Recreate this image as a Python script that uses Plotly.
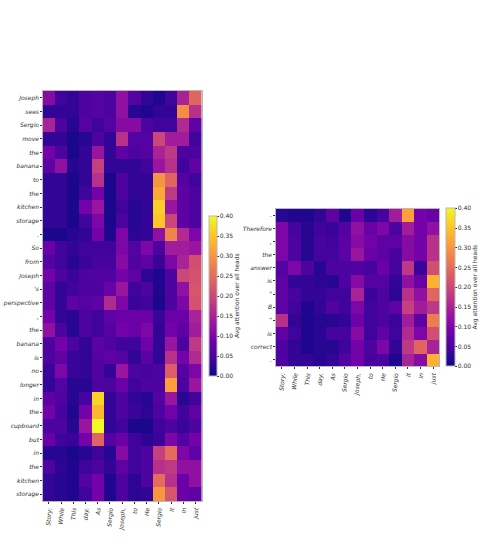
import plotly.graph_objects as go

W, H = 484, 552

# Tokens attended to (shared by both panels)
source_tokens = ["Story:", "While", "This", "day,", "As", "Sergio", "Joseph,", "to", "He", "Sergio", "It", "In", "just"]

story_tokens = ["Joseph", "sees", "Sergio", "move", "the", "banana", "to", "the", "kitchen", "storage", ".",
                "So", "from", "Joseph", "'s", "perspective", ",", "the", "banana", "is", "no", "longer",
                "in", "the", "cupboard", "but", "in", "the", "kitchen", "storage"]

answer_tokens = [".", "Therefore", ",", "the", "answer", "is", "\"", "B", "\"", "is", "correct", "."]

# Average attention per target token (rows) and source token (columns)
story_attention = [
    [.11, .04, .03, .05, .06, .05, .12, .06, .03, .015, .04, .15, .24],
    [.03, .03, .03, .05, .06, .05, .12, .02, .015, .03, .03, .29, .17],
    [.15, .05, .02, .06, .04, .06, .11, .11, .05, .04, .04, .16, .07],
    [.03, .03, .01, .02, .05, .03, .17, .06, .06, .20, .14, .14, .04],
    [.09, .05, .01, .03, .13, .03, .07, .05, .06, .15, .18, .05, .05],
    [.07, .12, .02, .03, .19, .03, .03, .03, .04, .13, .17, .04, .07],
    [.03, .03, .01, .03, .17, .01, .05, .03, .03, .30, .24, .06, .04],
    [.03, .03, .01, .04, .09, .01, .05, .03, .03, .32, .18, .07, .05],
    [.03, .03, .01, .09, .13, .01, .04, .02, .03, .36, .13, .07, .05],
    [.03, .03, .01, .04, .10, .01, .05, .02, .03, .35, .20, .07, .05],
    [.01, .01, .02, .03, .09, .015, .10, .025, .03, .12, .28, .16, .10],
    [.08, .04, .03, .04, .04, .04, .10, .06, .10, .05, .14, .14, .13],
    [.06, .04, .02, .035, .045, .045, .11, .055, .07, .035, .10, .15, .21],
    [.09, .05, .035, .05, .055, .055, .09, .07, .025, .015, .05, .20, .215],
    [.07, .03, .04, .05, .05, .08, .13, .04, .05, .015, .05, .12, .22],
    [.07, .03, .07, .06, .07, .16, .10, .035, .04, .01, .05, .10, .215],
    [.09, .03, .02, .05, .04, .07, .08, .08, .08, .035, .08, .08, .15],
    [.12, .05, .02, .05, .04, .06, .09, .08, .10, .03, .09, .07, .14],
    [.05, .09, .05, .03, .07, .055, .04, .04, .085, .03, .13, .05, .18],
    [.05, .07, .035, .03, .06, .07, .06, .03, .065, .03, .17, .09, .16],
    [.035, .10, .035, .03, .055, .03, .13, .05, .045, .05, .23, .06, .10],
    [.03, .06, .02, .02, .05, .05, .08, .04, .05, .05, .31, .05, .13],
    [.07, .055, .02, .045, .365, .03, .05, .03, .02, .06, .13, .02, .04],
    [.09, .045, .015, .09, .335, .03, .05, .035, .025, .05, .09, .04, .07],
    [.05, .05, .02, .13, .40, .03, .04, .01, .01, .04, .05, .035, .05],
    [.08, .04, .035, .09, .24, .06, .08, .04, .025, .035, .10, .06, .09],
    [.02, .02, .01, .02, .04, .02, .11, .04, .05, .19, .25, .10, .07],
    [.05, .025, .015, .04, .05, .03, .07, .04, .05, .17, .18, .12, .12],
    [.03, .02, .015, .06, .09, .015, .05, .025, .05, .25, .17, .08, .12],
    [.03, .02, .015, .04, .09, .015, .05, .025, .03, .30, .22, .08, .07],
]

answer_attention = [
    [.02, .015, .015, .03, .07, .015, .08, .025, .045, .14, .31, .09, .08],
    [.10, .045, .02, .04, .035, .06, .12, .08, .10, .05, .14, .09, .12],
    [.10, .05, .02, .045, .04, .065, .11, .09, .07, .07, .11, .09, .17],
    [.10, .05, .02, .045, .045, .065, .13, .08, .07, .045, .11, .09, .17],
    [.06, .10, .05, .02, .05, .05, .055, .045, .08, .045, .18, .035, .21],
    [.07, .03, .03, .025, .02, .05, .11, .06, .06, .03, .12, .08, .33],
    [.07, .045, .03, .03, .04, .04, .15, .035, .05, .025, .17, .12, .24],
    [.07, .04, .015, .03, .055, .04, .10, .04, .05, .07, .19, .14, .18],
    [.17, .03, .015, .02, .02, .03, .085, .04, .05, .035, .14, .07, .27],
    [.07, .04, .015, .025, .045, .045, .11, .04, .07, .04, .16, .10, .21],
    [.05, .03, .015, .02, .02, .04, .09, .05, .10, .03, .18, .24, .15],
    [.05, .03, .03, .02, .03, .06, .09, .045, .05, .015, .15, .11, .33],
]

colorbar_ticks = [0.00, 0.05, 0.10, 0.15, 0.20, 0.25, 0.30, 0.35, 0.40]
colorbar_title = "Avg attention over all heads"

TEXT = "#2e2e2e"
FRAME = "#b8b8b8"
FONT = "DejaVu Sans"
SIZE = 6


def px_x(v):
    return v / W


def px_y(v):
    return 1 - v / H


def add_panel(fig, idx, z, rows, box, bar, title_x):
    left, top, right, bottom = box
    bar_left, bar_right, bar_top, bar_bottom = bar
    suffix = "" if idx == 1 else str(idx)
    fig.add_trace(go.Heatmap(
        z=z,
        x=list(range(len(source_tokens))),
        y=list(range(len(rows))),
        zmin=0, zmax=0.4,
        colorscale="Plasma",
        xaxis="x" + suffix, yaxis="y" + suffix,
        xgap=0, ygap=0,
        colorbar=dict(
            x=px_x(bar_left), xanchor="left", xref="paper",
            y=px_y(bar_bottom), yanchor="bottom", yref="paper",
            len=(bar_bottom - bar_top) / H, lenmode="fraction",
            thickness=bar_right - bar_left, thicknessmode="pixels",
            xpad=0, ypad=0,
            outlinecolor=FRAME, outlinewidth=1,
            tickmode="array", tickvals=colorbar_ticks,
            ticktext=[f"{t:.2f}" for t in colorbar_ticks],
            ticks="outside", ticklen=1.5, tickcolor=TEXT, tickwidth=0.6,
            tickfont=dict(family=FONT, size=SIZE, color=TEXT),
        ),
    ))
    axis = dict(showgrid=False, zeroline=False, showline=True, mirror=True,
                linecolor=FRAME, linewidth=1, ticks="outside", ticklen=1.5,
                tickcolor=TEXT, tickwidth=0.6)
    font = dict(family=FONT, size=SIZE, color=TEXT, style="italic")
    fig.update_layout({
        "xaxis" + suffix: dict(
            axis, domain=[px_x(left), px_x(right)], anchor="y" + suffix,
            range=[-0.5, len(source_tokens) - 0.5],
            tickmode="array", tickvals=list(range(len(source_tokens))),
            ticktext=source_tokens, tickangle=-85, tickfont=font,
        ),
        "yaxis" + suffix: dict(
            axis, domain=[px_y(bottom), px_y(top)], anchor="x" + suffix,
            range=[len(rows) - 0.5, -0.5],
            tickmode="array", tickvals=list(range(len(rows))),
            ticktext=rows, tickfont=font,
        ),
    })
    fig.add_annotation(
        x=px_x(title_x), y=px_y((bar_top + bar_bottom) / 2), xref="paper", yref="paper",
        text=colorbar_title, textangle=-90, showarrow=False,
        xanchor="center", yanchor="middle",
        font=dict(family=FONT, size=SIZE, color=TEXT),
    )


fig = go.Figure()
add_panel(fig, 1, story_attention, story_tokens,
          (42.7, 91, 201.7, 501), (209, 217, 216, 376), 237)
add_panel(fig, 2, answer_attention, answer_tokens,
          (275.7, 208.7, 439.3, 366.3), (446, 454.5, 208.7, 366.3), 474)

fig.update_layout(
    width=W, height=H, autosize=False,
    margin=dict(l=0, r=0, t=0, b=0, autoexpand=False),
    paper_bgcolor="white", plot_bgcolor="white",
    font=dict(family=FONT),
)

fig.write_html("out.html", config={"displayModeBar": False})
